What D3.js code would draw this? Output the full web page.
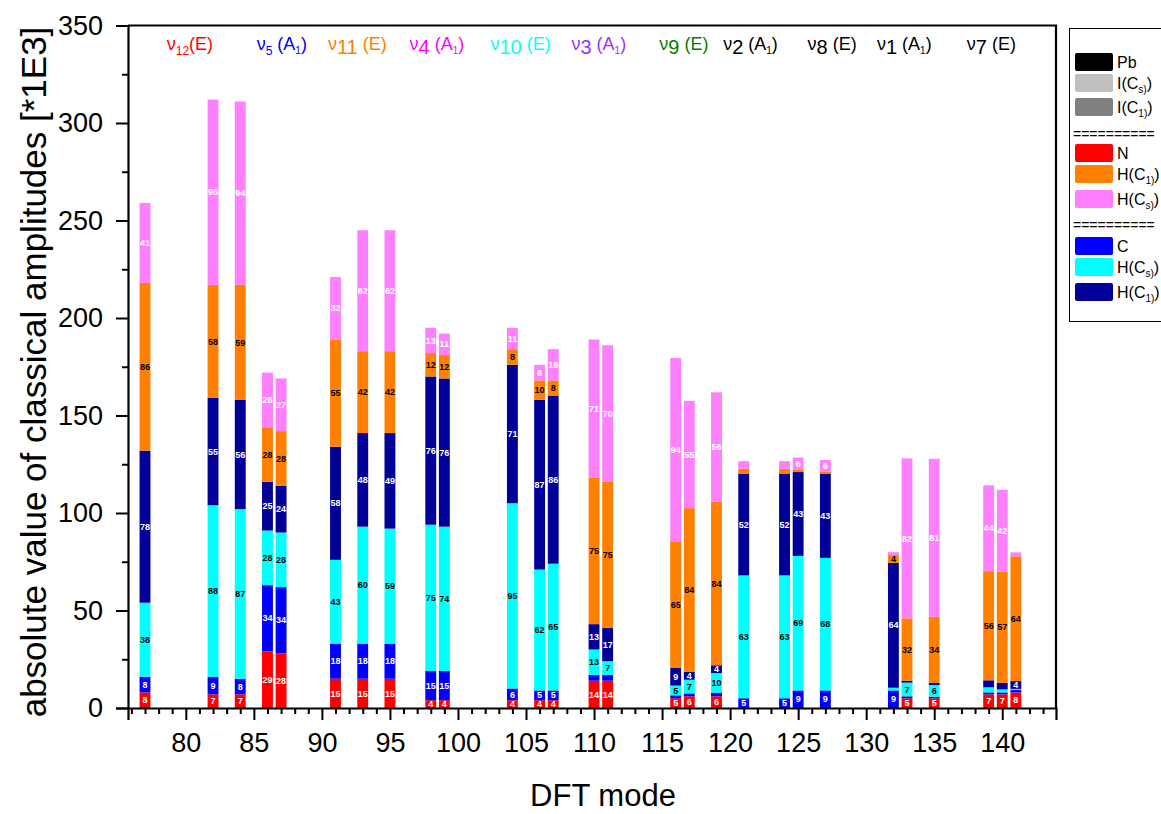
<!DOCTYPE html>
<html>
<head>
<meta charset="utf-8">
<script src="https://cdn.jsdelivr.net/npm/d3@7"></script>
<style>
  body { margin: 0; background: #fff; }
  svg { display: block; font-family: 'Liberation Sans', Arial, sans-serif; }
</style>
</head>
<body>
<div id="chart"></div>
<script>
// DFT modes that carry a bar
const modes = [77, 82, 84, 86, 87, 91, 93, 95, 98, 99, 104, 106, 107, 110, 111, 116, 117, 119, 121, 124, 125, 127, 132, 133, 135, 139, 140, 141];

// segment values [*1E3], bottom to top
const ampN      = [8, 7, 7, 29, 28, 15, 15, 15, 4, 4, 4, 4, 4, 14, 14, 5, 6, 6, 0, 0, 0, 0, 0, 5, 5, 7, 7, 8];
const ampC      = [8, 9, 8, 34, 34, 18, 18, 18, 15, 15, 6, 5, 5, 3, 3, 1.5, 1.5, 1.9, 5, 5, 9, 9, 9, 1, 0.8, 1, 1, 1.2];
const ampHCsLow = [38, 88, 87, 28, 28, 43, 60, 59, 75, 74, 95, 62, 65, 13, 7, 5, 7, 10, 63, 63, 69, 68, 1.4, 7, 6, 2.6, 1.5, 0.6];
const ampHC1Low = [78, 55, 56, 25, 24, 58, 48, 49, 76, 76, 71, 87, 86, 13, 17, 9, 4, 4, 52, 52, 43, 43, 64, 1, 1, 3.6, 3.4, 4];
const ampHC1Up  = [86, 58, 59, 28, 28, 55, 42, 42, 12, 12, 8, 10, 8, 75, 75, 65, 84, 84, 2.7, 2.7, 1.4, 1.2, 4, 32, 34, 56, 57, 64];
const ampHCsUp  = [41, 95, 94, 28, 27, 32, 62, 62, 13, 11, 11, 8, 16, 71, 70, 94, 55, 56, 3.9, 3.9, 6, 6, 1.5, 82, 81, 44, 42, 2];

const seriesKeys   = ["N", "C", "HCsLow", "HC1Low", "HC1Up", "HCsUp"];
const seriesColors = ["#ff0000", "#0000ff", "#00ffff", "#000099", "#ff8000", "#ff80ff"];
const seriesText   = ["#fff", "#fff", "#000", "#fff", "#000", "#fff"];

// mode annotations along the top
const annoPos    = [80.3, 87.05, 92.6, 98.45, 104.6, 110.35, 116.6, 121.5, 127.5, 132.8, 139.2];
const annoNum    = ["12", "5", "11", "4", "10", "3", "9", "2", "8", "1", "7"];
const annoSub    = [true, true, false, false, false, false, false, false, false, false, false];
const annoSym    = ["E", "A1", "E", "A1", "E", "A1", "E", "A1", "E", "A1", "E"];
const annoColors = ["#ff0000", "#0000ff", "#ff8000", "#ff00ff", "#00ffff", "#9933ff", "#008000", "#000", "#000", "#000", "#000"];

// legend
const legendNames  = ["Pb", "I(C|s)", "I(C|1)", "=", "N", "H(C|1)", "H(C|s)", "=", "C", "H(C|s)", "H(C|1)"];
const legendColors = ["#000000", "#c0c0c0", "#808080", null, "#ff0000", "#ff8000", "#ff80ff", null, "#0000ff", "#00ffff", "#000099"];

const W = 1161, H = 814;
const svg = d3.select("#chart").append("svg").attr("width", W).attr("height", H);

const x = d3.scaleLinear().domain([75.75, 143.95]).range([128, 1056]);
const y = d3.scaleLinear().domain([0, 350]).range([708, 25.5]);
const bw = x(0.8) - x(0);

const rows = modes.map((m, i) => ({
  mode: m, N: ampN[i], C: ampC[i], HCsLow: ampHCsLow[i],
  HC1Low: ampHC1Low[i], HC1Up: ampHC1Up[i], HCsUp: ampHCsUp[i]
}));
const stacked = d3.stack().keys(seriesKeys)(rows);

// bars
const layers = svg.append("g").selectAll("g")
  .data(stacked)
  .join("g")
  .attr("fill", (d, i) => seriesColors[i]);

layers.selectAll("rect")
  .data(d => d)
  .join("rect")
  .attr("x", d => x(d.data.mode) - bw / 2)
  .attr("width", bw)
  .attr("y", d => y(d[1]))
  .attr("height", d => Math.max(0, y(d[0]) - y(d[1])));

// value labels inside segments
layers.each(function (s, si) {
  d3.select(this).selectAll("text")
    .data(s.filter(d => d[1] - d[0] >= 4))
    .join("text")
    .attr("x", d => x(d.data.mode))
    .attr("y", d => y((d[0] + d[1]) / 2))
    .attr("dy", "0.35em")
    .attr("text-anchor", "middle")
    .attr("fill", seriesText[si])
    .style("font-size", "9px")
    .style("font-weight", "bold")
    .text(d => Math.round(d[1] - d[0]));
});

// axes
const axisBottom = svg.append("g").attr("transform", "translate(0,708)")
  .call(d3.axisBottom(x).tickValues(d3.range(80, 141, 5)).tickSize(12).tickPadding(13));
svg.append("g").attr("transform", "translate(0,708)")
  .call(d3.axisBottom(x).tickValues(d3.range(76, 144).filter(v => v % 5)).tickSize(6).tickFormat(""))
  .call(g => g.select(".domain").remove());
const axisLeft = svg.append("g").attr("transform", "translate(128,0)")
  .call(d3.axisLeft(y).tickValues(d3.range(0, 351, 50)).tickSize(12).tickPadding(13));
svg.append("g").attr("transform", "translate(128,0)")
  .call(d3.axisLeft(y).tickValues(d3.range(25, 350, 50)).tickSize(6).tickFormat(""))
  .call(g => g.select(".domain").remove());

svg.selectAll(".domain").attr("stroke-width", 2.2);
svg.selectAll(".tick line").attr("stroke-width", 2);
axisBottom.selectAll("text").style("font-size", "27px").style("font-family", "'Liberation Sans', Arial");
axisLeft.selectAll("text").style("font-size", "27px").style("font-family", "'Liberation Sans', Arial");

// frame top / right
svg.append("path")
  .attr("d", `M128,${y(350)}H${x(143.95)}V708`)
  .attr("fill", "none").attr("stroke", "#000").attr("stroke-width", 2.2);

// axis titles
svg.append("text")
  .attr("transform", "translate(46,372) rotate(-90)")
  .attr("text-anchor", "middle")
  .style("font-size", "35px")
  .text("absolute value of classical amplitudes [*1E3]");
svg.append("text")
  .attr("x", 603).attr("y", 806)
  .attr("text-anchor", "middle")
  .style("font-size", "31px")
  .text("DFT mode");

// top annotations
annoPos.forEach((p, i) => {
  const t = svg.append("text")
    .attr("x", x(p)).attr("y", 50)
    .attr("text-anchor", "middle")
    .attr("fill", annoColors[i])
    .style("font-size", "18px");
  t.append("tspan").text("\u03bd");
  if (annoSub[i]) {
    t.append("tspan").attr("dy", 5).style("font-size", "12px").text(annoNum[i]);
    t.append("tspan").attr("dy", -5).text(annoSym[i] === "E" ? "(E)" : " (A");
  } else {
    t.append("tspan").attr("dy", 4).style("font-size", "20px").text(annoNum[i]);
    t.append("tspan").attr("dy", -4).text(annoSym[i] === "E" ? " (E)" : " (A");
  }
  if (annoSym[i] === "A1") {
    t.append("tspan").attr("dy", 4).style("font-size", "10px").text("1");
    t.append("tspan").attr("dy", -4).text(")");
  }
});

// legend
const lg = svg.append("g");
lg.append("rect")
  .attr("x", 1069.5).attr("y", 28.5).attr("width", 120).attr("height", 293)
  .attr("fill", "#fff").attr("stroke", "#000").attr("stroke-width", 1);
const legendY = [62, 83, 107, 134, 153, 174, 199, 225, 246, 267, 292];
legendNames.forEach((name, i) => {
  const cy = legendY[i];
  if (legendColors[i] === null) {
    lg.append("text").attr("x", 1073).attr("y", cy + 5)
      .style("font-size", "14px").text("==========");
    return;
  }
  lg.append("rect")
    .attr("x", 1075).attr("y", cy - 9).attr("width", 38).attr("height", 18)
    .attr("rx", 2).attr("fill", legendColors[i]);
  const parts = name.split("|");
  const t = lg.append("text").attr("x", 1117).attr("y", cy + 6).style("font-size", "16px");
  t.append("tspan").text(parts[0]);
  if (parts.length > 1) {
    t.append("tspan").attr("dy", 4).style("font-size", "10px").text(parts[1]);
    t.append("tspan").attr("dy", -4).text(")");
  }
});
</script>
</body>
</html>
